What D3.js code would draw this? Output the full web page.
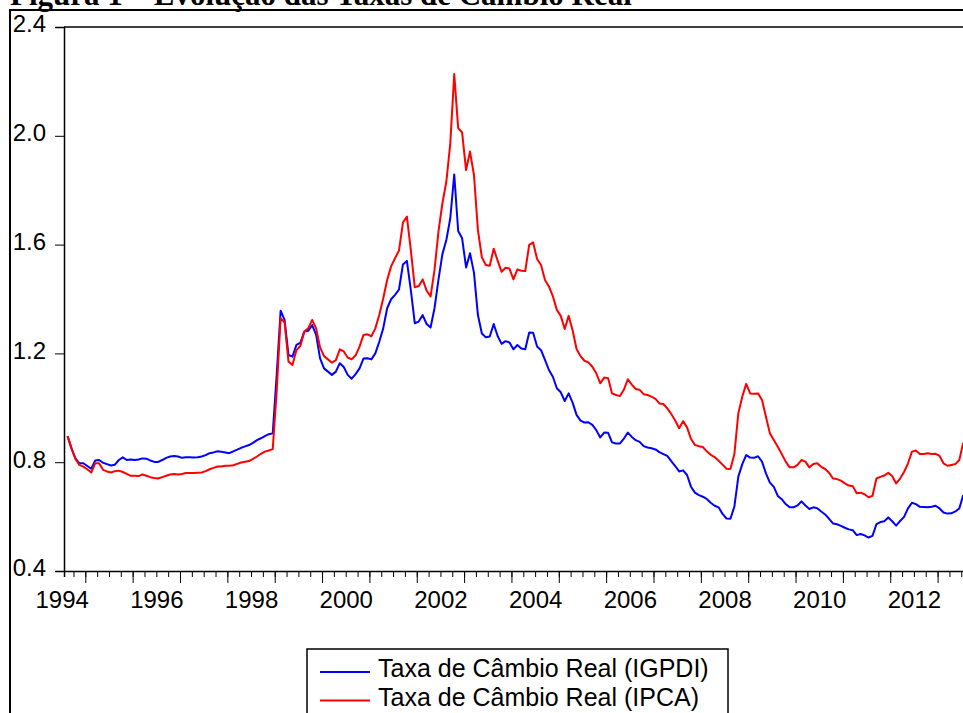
<!DOCTYPE html>
<html>
<head>
<meta charset="utf-8">
<script src="https://cdn.jsdelivr.net/npm/d3@7"></script>
<style>
  body { margin: 0; background: #fff; }
  .chart text { font-family: "Liberation Sans", Arial, sans-serif; }
  .axis path, .axis line { stroke: #000; }
  .line { fill: none; stroke-width: 2; stroke-linejoin: round; }
</style>
</head>
<body>
<div class="chart"></div>
<script>
// monthly series, first obs 1994m8, last 2013m7
let startYear = 1994;
let startMonth = 8;

let igpdi = [
  0.896, 0.851, 0.814, 0.796, 0.796,
  0.786, 0.776, 0.806, 0.808, 0.798, 0.793, 0.788, 0.791, 0.808, 0.818, 0.808, 0.810,
  0.808, 0.810, 0.814, 0.813, 0.806, 0.801, 0.801, 0.808, 0.816, 0.821, 0.823, 0.821,
  0.816, 0.818, 0.818, 0.817, 0.818, 0.821, 0.826, 0.833, 0.836, 0.840, 0.838, 0.836,
  0.833, 0.840, 0.846, 0.853, 0.858, 0.863, 0.871, 0.881, 0.888, 0.896, 0.903, 0.906,
  1.120, 1.357, 1.323, 1.194, 1.188, 1.231, 1.239, 1.280, 1.283, 1.304, 1.268, 1.182,
  1.145, 1.133, 1.121, 1.133, 1.164, 1.150, 1.121, 1.107, 1.124, 1.145, 1.181, 1.182,
  1.178, 1.200, 1.243, 1.292, 1.366, 1.399, 1.415, 1.435, 1.527, 1.540, 1.433, 1.311,
  1.317, 1.341, 1.308, 1.295, 1.366, 1.470, 1.565, 1.617, 1.697, 1.858, 1.650, 1.623,
  1.516, 1.568, 1.497, 1.341, 1.273, 1.259, 1.262, 1.308, 1.264, 1.235, 1.245, 1.240,
  1.215, 1.231, 1.218, 1.215, 1.277, 1.276, 1.225, 1.212, 1.176, 1.139, 1.114, 1.072,
  1.057, 1.025, 1.053, 1.019, 0.974, 0.953, 0.946, 0.947, 0.937, 0.918, 0.891, 0.909,
  0.908, 0.873, 0.869, 0.869, 0.887, 0.909, 0.893, 0.881, 0.875, 0.859, 0.854, 0.851,
  0.847, 0.837, 0.830, 0.823, 0.804, 0.786, 0.766, 0.770, 0.753, 0.710, 0.688, 0.679,
  0.673, 0.665, 0.651, 0.640, 0.634, 0.610, 0.593, 0.592, 0.637, 0.747, 0.793, 0.826,
  0.817, 0.816, 0.822, 0.802, 0.759, 0.725, 0.709, 0.676, 0.664, 0.646, 0.634, 0.634,
  0.641, 0.656, 0.641, 0.628, 0.634, 0.631, 0.619, 0.608, 0.592, 0.575, 0.572, 0.566,
  0.559, 0.553, 0.550, 0.532, 0.536, 0.531, 0.523, 0.529, 0.572, 0.580, 0.583, 0.597,
  0.583, 0.567, 0.584, 0.599, 0.630, 0.651, 0.646, 0.636, 0.635, 0.634, 0.636, 0.640,
  0.630, 0.615, 0.611, 0.612, 0.619, 0.630, 0.679
];

let ipca = [
  0.896, 0.851, 0.812, 0.790, 0.784,
  0.774, 0.762, 0.796, 0.796, 0.772, 0.766, 0.762, 0.767, 0.769, 0.764, 0.757, 0.750,
  0.750, 0.749, 0.755, 0.750, 0.745, 0.742, 0.740, 0.745, 0.750, 0.755, 0.757, 0.755,
  0.757, 0.760, 0.760, 0.760, 0.761, 0.762, 0.767, 0.774, 0.779, 0.784, 0.784, 0.787,
  0.787, 0.789, 0.794, 0.799, 0.802, 0.804, 0.812, 0.821, 0.831, 0.839, 0.843, 0.848,
  1.060, 1.329, 1.314, 1.170, 1.157, 1.212, 1.227, 1.280, 1.292, 1.323, 1.292, 1.222,
  1.190, 1.178, 1.166, 1.175, 1.215, 1.207, 1.185, 1.178, 1.193, 1.225, 1.268, 1.270,
  1.263, 1.292, 1.341, 1.402, 1.470, 1.520, 1.550, 1.578, 1.681, 1.703, 1.580, 1.443,
  1.448, 1.472, 1.431, 1.409, 1.507, 1.648, 1.752, 1.831, 1.972, 2.227, 2.028, 2.012,
  1.874, 1.942, 1.856, 1.654, 1.553, 1.525, 1.522, 1.585, 1.541, 1.500, 1.515, 1.512,
  1.472, 1.509, 1.504, 1.503, 1.599, 1.608, 1.547, 1.525, 1.470, 1.446, 1.410, 1.360,
  1.338, 1.290, 1.338, 1.285, 1.216, 1.190, 1.173, 1.167, 1.151, 1.127, 1.090, 1.111,
  1.109, 1.053, 1.047, 1.043, 1.067, 1.105, 1.085, 1.069, 1.066, 1.050, 1.047, 1.041,
  1.033, 1.016, 1.014, 0.998, 0.977, 0.953, 0.925, 0.951, 0.928, 0.886, 0.863, 0.859,
  0.856, 0.840, 0.827, 0.819, 0.805, 0.791, 0.776, 0.775, 0.830, 0.980, 1.041, 1.088,
  1.053, 1.052, 1.053, 1.029, 0.967, 0.906, 0.882, 0.857, 0.830, 0.802, 0.781, 0.781,
  0.790, 0.808, 0.802, 0.781, 0.793, 0.796, 0.783, 0.775, 0.761, 0.740, 0.738, 0.732,
  0.722, 0.714, 0.712, 0.686, 0.688, 0.682, 0.671, 0.676, 0.740, 0.746, 0.751, 0.761,
  0.749, 0.722, 0.740, 0.764, 0.796, 0.839, 0.843, 0.830, 0.830, 0.833, 0.830, 0.831,
  0.823, 0.796, 0.787, 0.790, 0.793, 0.808, 0.872
];

let yTicks = [0.4, 0.8, 1.2, 1.6, 2.0, 2.4];
let yearLabels = [1994, 1996, 1998, 2000, 2002, 2004, 2006, 2008, 2010, 2012];
let seriesNames = ["Taxa de Câmbio Real (IGPDI)", "Taxa de Câmbio Real (IPCA)"];
let seriesColors = ["#0000ff", "#ff0000"];
let title = "Figura 1 – Evolução das Taxas de Câmbio Real";

drawChart(document.querySelector(".chart"));

function drawChart(container) {
    let width = 963, height = 713;
    let svg = d3.select(container).append("svg")
        .attr("width", width)
        .attr("height", height);

    svg.append("rect").attr("width", width).attr("height", height).attr("fill", "#fff");

    // figure caption, cut by the page top
    svg.append("text")
        .attr("x", 10).attr("y", 5)
        .style("font-family", "'Liberation Serif', 'Times New Roman', serif")
        .style("font-weight", "bold")
        .style("font-size", "31px")
        .text(title);

    // outer frame
    svg.append("path")
        .attr("d", "M10," + height + "V10H" + width)
        .attr("fill", "none").attr("stroke", "#000").attr("stroke-width", 2);

    //set chart bounds
    let margin = {top: 27, left: 64, bottom: 571, right: 966};
    let g = svg.append("g");

    let xScale = d3.scaleLinear()
        .domain([1994.55, 2013.6])
        .range([margin.left, margin.right]);
    let yScale = d3.scaleLinear()
        .domain([0.4, 2.4])
        .range([margin.bottom, margin.top]);

    // top border of plot box
    g.append("line")
        .attr("x1", margin.left).attr("x2", margin.right)
        .attr("y1", margin.top).attr("y2", margin.top)
        .attr("stroke", "#000").attr("stroke-width", 1.5);

    //y-axis
    g.append("g")
        .attr("class", "axis")
        .attr("transform", "translate(" + margin.left + ",0)")
        .call(d3.axisLeft(yScale).tickValues(yTicks).tickSize(9).tickPadding(9)
            .tickFormat(d3.format(".1f")))
        .call(a => a.select(".domain").attr("stroke-width", 1.5))
        .call(a => a.selectAll("text").attr("dy", "0.2em")
            .style("font-size", "24px").attr("fill", "#000"));

    //x-axis: quarter ticks, year ticks, labels centered on years
    let quarters = d3.range(Math.ceil(1994.55 * 4), Math.floor(2013.6 * 4) + 1).map(q => q / 4);
    let years = quarters.filter(q => q % 1 === 0);
    g.append("g")
        .attr("class", "axis")
        .attr("transform", "translate(0," + margin.bottom + ")")
        .call(d3.axisBottom(xScale).tickValues(quarters).tickSize(6).tickFormat(""))
        .call(a => a.select(".domain").attr("stroke-width", 1.5));
    g.append("g")
        .attr("class", "axis")
        .attr("transform", "translate(0," + margin.bottom + ")")
        .call(d3.axisBottom(xScale).tickValues(years).tickSize(12).tickFormat(""))
        .call(a => a.select(".domain").remove());
    g.append("g")
        .attr("class", "axis")
        .attr("transform", "translate(0," + margin.bottom + ")")
        .call(d3.axisBottom(xScale).tickValues(yearLabels.map(y => y + 0.5))
            .tickSize(0).tickPadding(20).tickFormat(d => String(Math.floor(d))))
        .call(a => a.select(".domain").remove())
        .call(a => a.selectAll("text").style("font-size", "24px").attr("fill", "#000"));

    //draw series
    let monthTime = i => startYear + (startMonth - 1 + i + 0.5) / 12;
    let line = d3.line()
        .x((d, i) => xScale(monthTime(i)))
        .y(d => yScale(d));

    [igpdi, ipca].forEach((s, k) => {
        g.append("path")
            .datum(s)
            .attr("class", "line")
            .attr("stroke", seriesColors[k])
            .attr("d", line);
    });

    //legend
    let legend = svg.append("g").attr("transform", "translate(307,649)");
    legend.append("rect")
        .attr("x", 0).attr("y", 0).attr("width", 421).attr("height", 80)
        .attr("fill", "#fff").attr("stroke", "#000").attr("stroke-width", 1.5);
    seriesNames.forEach((name, k) => {
        let row = legend.append("g").attr("transform", "translate(0," + (23 + k * 28.5) + ")");
        row.append("line")
            .attr("x1", 13).attr("x2", 63).attr("y1", 0).attr("y2", 0)
            .attr("stroke", seriesColors[k]).attr("stroke-width", 2);
        row.append("text")
            .attr("x", 71).attr("y", 5)
            .style("font-size", "25px")
            .text(name);
    });
}
</script>
</body>
</html>
